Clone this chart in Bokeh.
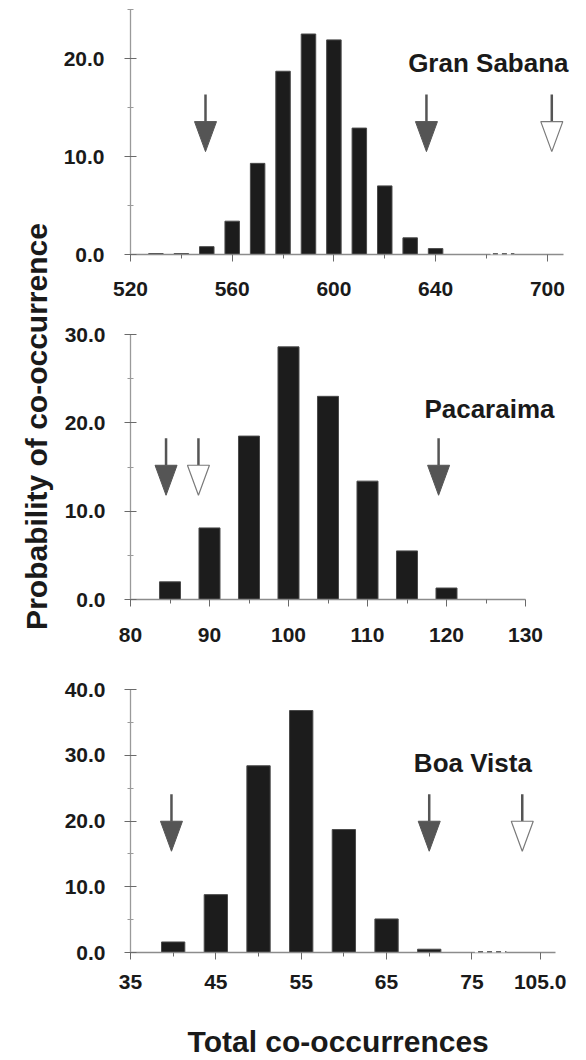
import math
from bokeh.plotting import figure
from bokeh.layouts import row, column
from bokeh.models import Range1d, FixedTicker, PrintfTickFormatter, Label, Arrow
from bokeh.embed import file_html
from bokeh.resources import INLINE

# ---------------- data ----------------
# Gran Sabana
gs_x = [530, 540, 550, 560, 570, 580, 590, 600, 610, 620, 630, 640]
gs_p = [0.1, 0.1, 0.8, 3.4, 9.3, 18.7, 22.5, 21.9, 12.9, 7.0, 1.7, 0.6]
gs_filled = [549.5, 636.4]
gs_open = [685.7]          # drawn past the axis break (label 700)
gs_xticks = [520, 560, 600, 640, 684]
gs_xlabels = {684: "700"}
gs_xminor = [540, 580, 620, 660]

# Pacaraima
pc_x = [85, 90, 95, 100, 105, 110, 115, 120]
pc_p = [2.0, 8.1, 18.5, 28.6, 23.0, 13.4, 5.5, 1.3]
pc_filled = [84.5, 119.0]
pc_open = [88.6]
pc_xticks = [80, 90, 100, 110, 120, 130]
pc_xlabels = {}
pc_xminor = [85, 95, 105, 115, 125]

# Boa Vista
bv_x = [40, 45, 50, 55, 60, 65, 70]
bv_p = [1.6, 8.8, 28.4, 36.8, 18.7, 5.1, 0.5]
bv_filled = [39.8, 70.0]
bv_open = [80.9]           # drawn past the axis break (label 105.0)
bv_xticks = [35, 45, 55, 65, 75, 83]
bv_xlabels = {83: "105.0"}
bv_xminor = [40, 50, 60, 70]

FONT = "Liberation Sans"
AXIS_COL = "#8c8c8c"
TICK_COL = "#6a6a6a"
TXT_COL = "#1a1a1a"


def panel(name, xs, ps, filled, opened, x0, ppx, xbound, yr, fw, fh, mb, bar_w,
          xticks, xminor, xlabels, ymajor, yminor, xstand, ystand,
          title_xy, tip_y, brk=None):
    xr = (x0, x0 + fw / ppx)
    p = figure(frame_width=fw, frame_height=fh,
               x_range=Range1d(*xr), y_range=Range1d(*yr),
               min_border_left=mb[0], min_border_right=mb[1],
               min_border_top=mb[2], min_border_bottom=mb[3],
               toolbar_location=None, output_backend="svg",
               background_fill_color="white", border_fill_color="white")
    p.outline_line_color = None
    p.grid.visible = False
    ppy = fh / (yr[1] - yr[0])

    p.vbar(x=xs, top=ps, bottom=0, width=bar_w,
           fill_color="#1c1c1c", line_color="#4a4a4a", line_width=1)

    # arrows
    hl, sl, hw = 30.0, 27.0, 11.0
    allx = list(filled) + list(opened)
    p.segment(x0=allx, y0=[tip_y + hl / ppy] * len(allx),
              x1=allx, y1=[tip_y + (hl + sl) / ppy] * len(allx),
              line_color="#555555", line_width=2.5)
    p.patches(xs=[[a - hw / ppx, a + hw / ppx, a] for a in filled],
              ys=[[tip_y + hl / ppy, tip_y + hl / ppy, tip_y] for a in filled],
              fill_color="#555555", line_color="#555555", line_width=1)
    p.patches(xs=[[a - hw / ppx, a + hw / ppx, a] for a in opened],
              ys=[[tip_y + hl / ppy, tip_y + hl / ppy, tip_y] for a in opened],
              fill_color="white", line_color="#7a7a7a", line_width=1.2)

    # axes
    xa = p.xaxis[0]
    xa.bounds = xbound
    xa.ticker = FixedTicker(ticks=xticks, minor_ticks=xminor)
    if xlabels:
        xa.major_label_overrides = xlabels
    xa.axis_line_color = AXIS_COL
    xa.axis_line_width = 1.3
    xa.major_tick_line_color = TICK_COL
    xa.minor_tick_line_color = TICK_COL
    xa.major_tick_in = 0
    xa.major_tick_out = 7
    xa.minor_tick_in = 0
    xa.minor_tick_out = 4
    xa.major_label_standoff = xstand
    xa.major_label_text_font = FONT
    xa.major_label_text_font_style = "bold"
    xa.major_label_text_font_size = "21px"
    xa.major_label_text_color = TXT_COL

    ya = p.yaxis[0]
    ya.ticker = FixedTicker(ticks=ymajor, minor_ticks=yminor)
    ya.formatter = PrintfTickFormatter(format="%.1f")
    ya.axis_line_color = "#9a9a9a"
    ya.axis_line_width = 1.3
    ya.major_tick_line_color = TICK_COL
    ya.minor_tick_line_color = "#9a9a9a"
    ya.major_tick_in = 6
    ya.major_tick_out = 6
    ya.minor_tick_in = 3
    ya.minor_tick_out = 3
    ya.major_label_standoff = ystand
    ya.major_label_text_font = FONT
    ya.major_label_text_font_style = "bold"
    ya.major_label_text_font_size = "21px"
    ya.major_label_text_color = TXT_COL

    # axis break
    if brk is not None:
        b0, b1 = brk
        p.add_layout(Arrow(end=None, x_start=b0, x_end=b1, y_start=0, y_end=0,
                           line_color="white", line_width=5))
        p.add_layout(Arrow(end=None, x_start=b0 + 0.1 * (b1 - b0), x_end=b1,
                           y_start=0, y_end=0, line_color="#666666",
                           line_width=2.8, line_dash="5 4"))

    p.add_layout(Label(x=title_xy[0], y=title_xy[1], text=name,
                       text_font=FONT, text_font_style="bold",
                       text_font_size="26px", text_color=TXT_COL,
                       text_align="left", text_baseline="middle"))
    return p


p1 = panel("Gran Sabana", gs_x, gs_p, gs_filled, gs_open,
           x0=520, ppx=2.5425, xbound=(520, 690.3), yr=(0, 25), fw=450, fh=245,
           mb=(72, 0, 9, 51), bar_w=5.7,
           xticks=gs_xticks, xminor=gs_xminor, xlabels=gs_xlabels,
           ymajor=[0, 10, 20], yminor=[5, 15, 25], xstand=20, ystand=20,
           title_xy=(629.2, 19.54), tip_y=10.5, brk=(661.6, 671.0))

p2 = panel("Pacaraima", pc_x, pc_p, pc_filled, pc_open,
           x0=80, ppx=7.9, xbound=(80, 130), yr=(0, 30), fw=448, fh=265,
           mb=(74, 0, 29, 56), bar_w=2.66,
           xticks=pc_xticks, xminor=pc_xminor, xlabels=pc_xlabels,
           ymajor=[0, 10, 20, 30], yminor=[5, 15, 25], xstand=21, ystand=19,
           title_xy=(117.2, 21.59), tip_y=11.8)

p3 = panel("Boa Vista", bv_x, bv_p, bv_filled, bv_open,
           x0=35, ppx=8.535, xbound=(35, 84.8), yr=(0, 40), fw=450, fh=263,
           mb=(72, 0, 34, 48), bar_w=2.73,
           xticks=bv_xticks, xminor=bv_xminor, xlabels=bv_xlabels,
           ymajor=[0, 10, 20, 30, 40], yminor=[5, 15, 25, 35], xstand=15, ystand=19,
           title_xy=(68.2, 28.82), tip_y=15.4, brk=(75.35, 79.05))

# x-axis title strip
pb = figure(width=522, height=58, x_range=Range1d(0, 522), y_range=Range1d(58, 0),
            min_border_left=0, min_border_right=0, min_border_top=0, min_border_bottom=0,
            toolbar_location=None, output_backend="svg")
pb.axis.visible = False
pb.grid.visible = False
pb.outline_line_color = None
pb.add_layout(Label(x=242, y=40.5, text="Total co-occurrences",
                    text_font=FONT, text_font_style="bold",
                    text_font_size="30px", text_color=TXT_COL,
                    text_align="center", text_baseline="middle"))

# y-axis title column
p0 = figure(width=56, height=1058, x_range=Range1d(0, 56), y_range=Range1d(1058, 0),
            min_border_left=0, min_border_right=0, min_border_top=0, min_border_bottom=0,
            toolbar_location=None, output_backend="svg")
p0.axis.visible = False
p0.grid.visible = False
p0.outline_line_color = None
p0.add_layout(Label(x=36, y=426, text="Probability of co-occurrence",
                    text_font=FONT, text_font_style="bold",
                    text_font_size="30px", text_color=TXT_COL,
                    angle=math.pi / 2, text_align="center", text_baseline="middle"))

layout = row(p0, column(p1, p2, p3, pb))
open("out.html", "w").write(file_html(layout, INLINE))
